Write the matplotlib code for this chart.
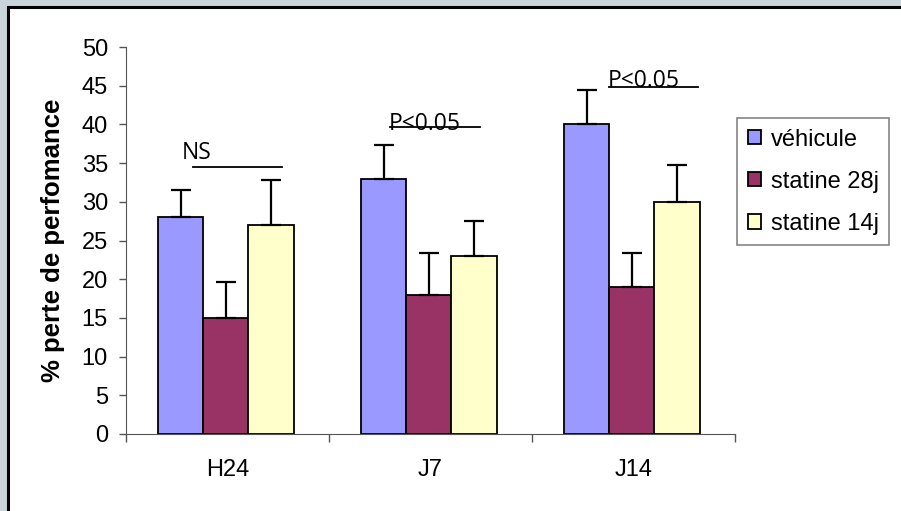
import numpy as np
import matplotlib.pyplot as plt
from matplotlib.patches import Rectangle

# Données
groupes = ["H24", "J7", "J14"]
series = ["véhicule", "statine 28j", "statine 14j"]
vehicule = [28, 33, 40]
statine_28j = [15, 18, 19]
statine_14j = [27, 23, 30]
err_vehicule = [3.5, 4.3, 4.4]
err_statine_28j = [4.7, 5.4, 4.4]
err_statine_14j = [5.8, 4.5, 4.8]
couleurs = ["#9999ff", "#993366", "#ffffcc"]

# Annotations de significativité
signif_textes = ["NS", "P<0.05", "P<0.05"]
signif_x0 = [-0.17, 0.80, 1.88]      # début du trait
signif_x1 = [0.27, 1.245, 2.32]      # fin du trait
signif_y = [34.5, 39.6, 44.8]        # hauteur du trait
texte_x = [-0.225, 0.795, 1.875]
texte_y = [35.5, 39.3, 44.8]         # ligne de base du texte

plt.rcParams['font.family'] = ['Liberation Sans', 'DejaVu Sans']

fig = plt.figure(figsize=(9.01, 5.11), dpi=100)
fig.patch.set_facecolor("#c9d3da")
# cadre blanc avec bordure noire en haut et à gauche
fig.patches.append(Rectangle((8 / 901, -0.05), 1.1, 1 - 7 / 511 + 0.05,
                             transform=fig.transFigure, facecolor="white",
                             edgecolor="black", linewidth=2.2, zorder=-5))

ax = fig.add_axes([126 / 901, 1 - 434 / 511, (735 - 126) / 901, (434 - 47) / 511])
ax.set_facecolor("none")

x = np.arange(len(groupes))
w = 1 / 4.5
donnees = [vehicule, statine_28j, statine_14j]
erreurs = [err_vehicule, err_statine_28j, err_statine_14j]
for i, (vals, errs) in enumerate(zip(donnees, erreurs)):
    pos = x + (i - 1) * w - 0.008
    ax.bar(pos, vals, width=w, color=couleurs[i], edgecolor="black",
           linewidth=1.3, label=series[i], zorder=2)
    ax.errorbar(pos, vals, yerr=[np.zeros(len(errs)), errs], fmt="none",
                ecolor="black", elinewidth=1.6, capsize=7.2, capthick=1.6, zorder=3)

for i, t in enumerate(signif_textes):
    ax.plot([signif_x0[i], signif_x1[i]], [signif_y[i], signif_y[i]],
            color="black", linewidth=1.3, clip_on=False, zorder=4)
    ax.text(texte_x[i], texte_y[i], t, family="Open Sans", fontsize=16.5,
            ha="left", va="baseline", zorder=4)

ax.set_xlim(-0.5, 2.5)
ax.set_ylim(0, 50)
ax.set_yticks(np.arange(0, 51, 5))
ax.tick_params(axis="y", labelsize=17, length=5, width=1, direction="out", pad=8,
               color="#555555")
ax.set_xticks([-0.5, 0.5, 1.5, 2.5])
ax.set_xticklabels([])
ax.set_xticks(x, minor=True)
ax.set_xticklabels(groupes, minor=True)
ax.tick_params(axis="x", which="major", length=6, width=1, direction="out",
               color="#555555")
ax.tick_params(axis="x", which="minor", length=0, labelsize=17, pad=18)
for s in ["top", "right"]:
    ax.spines[s].set_visible(False)
ax.spines["left"].set_color("#555555")
ax.spines["bottom"].set_color("#555555")

ax.set_ylabel("% perte de perfomance", fontsize=18.5, fontweight="bold", labelpad=12)

leg = ax.legend(loc="upper left", bbox_to_anchor=(737 / 901, 1 - 118 / 511),
                bbox_transform=fig.transFigure, fontsize=17, frameon=True,
                fancybox=False, edgecolor="#666666", handlelength=0.55,
                handleheight=0.55, handletextpad=0.42, labelspacing=0.85,
                borderpad=0.45, borderaxespad=0)
leg.get_frame().set_linewidth(1.2)

fig.savefig("out.png", dpi=100, facecolor=fig.get_facecolor())
